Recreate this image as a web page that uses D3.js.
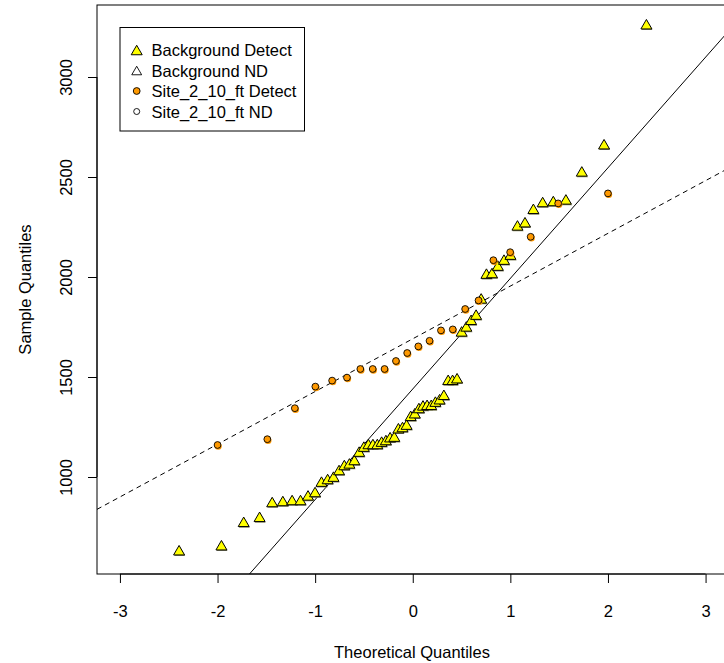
<!DOCTYPE html>
<html>
<head>
<meta charset="utf-8">
<script src="https://cdn.jsdelivr.net/npm/d3@7"></script>
<style>
  html, body { margin: 0; padding: 0; background: #fff; }
  svg { display: block; }
  text { font-family: "Liberation Sans", Arial, sans-serif; fill: #000; }
</style>
</head>
<body>
<svg id="chart" width="724" height="663"></svg>
<script>
// ---------------- DATA ----------------
const bgTheoretical = [-2.394,-1.960,-1.732,-1.569,-1.440,-1.331,-1.236,-1.150,-1.073,-1.001,
  -0.935,-0.872,-0.812,-0.755,-0.701,-0.649,-0.598,-0.549,-0.501,-0.454,
  -0.408,-0.363,-0.319,-0.275,-0.232,-0.189,-0.147,-0.105,-0.063,-0.021,
  0.021,0.063,0.105,0.147,0.189,0.232,0.275,0.319,0.363,0.408,
  0.454,0.501,0.549,0.598,0.649,0.701,0.755,0.812,0.872,0.935,
  1.001,1.073,1.150,1.236,1.331,1.440,1.569,1.732,1.960,2.394];
const bgSample = [634,659,776,801,875,880,885,885,908,925,
  977,990,1002,1035,1060,1068,1085,1127,1152,1165,
  1165,1165,1177,1185,1199,1202,1244,1250,1262,1306,
  1319,1345,1358,1361,1361,1377,1389,1411,1486,1486,
  1494,1728,1753,1786,1812,1893,2017,2020,2057,2087,
  2112,2258,2274,2341,2375,2380,2388,2528,2664,3264];

const siteTheoretical = [-2.000,-1.490,-1.208,-0.998,-0.826,-0.674,-0.537,-0.410,-0.289,-0.172,-0.057,
  0.057,0.172,0.289,0.410,0.537,0.674,0.826,0.998,1.208,1.490,2.000];
const siteSample = [1160,1189,1344,1452,1482,1497,1540,1540,1540,1580,1620,
  1653,1681,1733,1738,1840,1883,2084,2124,2201,2368,2418];

// reference lines (solid = Background, dashed = Site)
const lineNames = ["Background", "Site_2_10_ft"];
const lineIntercepts = [1440, 1691];
const lineSlopes = [553, 263.6];

const xTicks = [-3,-2,-1,0,1,2,3];
const yTicks = [1000,1500,2000,2500,3000];
const legendLabels = ["Background Detect","Background ND","Site_2_10_ft Detect","Site_2_10_ft ND"];
const xTitle = "Theoretical Quantiles";
const yTitle = "Sample Quantiles";

// ---------------- LAYOUT ----------------
const svg = d3.select("#chart");
const pL = 97, pR = 728.5, pT = 5, pB = 574;
const x = d3.scaleLinear().domain([-3.235, 3.235]).range([pL, pR]);
const y = d3.scaleLinear().domain([515, 3360]).range([pB, pT]);
const FS = 16.5;
const yellow = "#FFFF00", orange = "#FF9900";

svg.append("defs").append("clipPath").attr("id","plotclip")
  .append("rect").attr("x", pL).attr("y", pT).attr("width", pR-pL).attr("height", pB-pT);

// reference lines
const plot = svg.append("g").attr("clip-path","url(#plotclip)");
const xd = x.domain();
lineNames.forEach((n, i) => {
  plot.append("line")
    .attr("x1", x(xd[0])).attr("y1", y(lineIntercepts[i] + lineSlopes[i]*xd[0]))
    .attr("x2", x(xd[1])).attr("y2", y(lineIntercepts[i] + lineSlopes[i]*xd[1]))
    .attr("stroke", "#000").attr("stroke-width", 1)
    .attr("stroke-dasharray", i === 1 ? "5,4" : null);
});

// markers
const triW = 11, triH = 9.5;
const triPath = `M0,${-triH/2} L${triW/2},${triH/2} L${-triW/2},${triH/2} Z`;

const bgData = bgTheoretical.map((q, i) => ({q, v: bgSample[i]}));
const siteData = siteTheoretical.map((q, i) => ({q, v: siteSample[i]}));

plot.selectAll(".bgShadow").data(bgData).enter().append("path")
  .attr("d", triPath)
  .attr("transform", d => `translate(${x(d.q)+0.6},${y(d.v)+1.1})`)
  .attr("fill", "#8c8c6a");
plot.selectAll(".bg").data(bgData).enter().append("path")
  .attr("d", triPath)
  .attr("transform", d => `translate(${x(d.q)},${y(d.v)})`)
  .attr("fill", yellow).attr("stroke", "#000").attr("stroke-width", 1);

plot.selectAll(".siteShadow").data(siteData).enter().append("circle")
  .attr("cx", d => x(d.q)+0.7).attr("cy", d => y(d.v)+1.2).attr("r", 3.5)
  .attr("fill", orange);
plot.selectAll(".site").data(siteData).enter().append("circle")
  .attr("cx", d => x(d.q)).attr("cy", d => y(d.v)).attr("r", 3.4)
  .attr("fill", orange).attr("stroke", "#000").attr("stroke-width", 0.9);

// box
svg.append("rect").attr("x", pL).attr("y", pT).attr("width", pR-pL).attr("height", pB-pT)
  .attr("fill", "none").attr("stroke", "#000").attr("stroke-width", 1);

// x axis
const xAxis = svg.append("g").attr("transform", `translate(0,${pB})`)
  .call(d3.axisBottom(x).tickValues(xTicks).tickSize(9).tickPadding(0).tickFormat(d3.format("d")));
xAxis.select(".domain").attr("d", `M${x(xTicks[0])},0H${x(xTicks[xTicks.length-1])}`);
xAxis.selectAll(".tick line").attr("stroke", "#000");
xAxis.selectAll(".tick text").attr("y", 43).attr("dy", null)
  .style("font-size", FS+"px").style("font-family", "'Liberation Sans', Arial, sans-serif")
  .text(d => d < 0 ? "-" + Math.abs(d) : String(d));

// y axis
const yAxis = svg.append("g").attr("transform", `translate(${pL},0)`)
  .call(d3.axisLeft(y).tickValues(yTicks).tickSize(9).tickFormat(d3.format("d")));
yAxis.select(".domain").attr("d", `M0,${y(yTicks[0])}V${y(yTicks[yTicks.length-1])}`);
yAxis.selectAll(".tick text")
  .attr("x", null).attr("dy", null)
  .attr("transform", "translate(-25,0) rotate(-90)")
  .attr("text-anchor", "middle")
  .style("font-size", FS+"px").style("font-family", "'Liberation Sans', Arial, sans-serif");
svg.selectAll(".tick text").attr("fill", "#000");

// titles
svg.append("text").attr("x", 412).attr("y", 658)
  .attr("text-anchor", "middle").style("font-size", FS+"px").text(xTitle);
svg.append("text").attr("transform", `translate(31,${(pT+pB)/2}) rotate(-90)`)
  .attr("text-anchor", "middle").style("font-size", FS+"px").text(yTitle);

// legend
const lg = svg.append("g");
lg.append("rect").attr("x", 120).attr("y", 27.5).attr("width", 184.5).attr("height", 103.5)
  .attr("fill", "#fff").attr("stroke", "#000").attr("stroke-width", 1);
const rowY = [50, 70.5, 91, 111.5];
legendLabels.forEach((lab, i) => {
  const sx = 136.7, sy = rowY[i];
  if (i === 0) lg.append("path").attr("d", triPath).attr("transform", `translate(${sx},${sy})`)
    .attr("fill", yellow).attr("stroke", "#000");
  if (i === 1) lg.append("path").attr("d", triPath).attr("transform", `translate(${sx},${sy}) scale(0.9)`)
    .attr("fill", "none").attr("stroke", "#000");
  if (i === 2) lg.append("circle").attr("cx", sx).attr("cy", sy).attr("r", 3.4)
    .attr("fill", orange).attr("stroke", "#000").attr("stroke-width", 0.9);
  if (i === 3) lg.append("circle").attr("cx", sx).attr("cy", sy).attr("r", 3)
    .attr("fill", "none").attr("stroke", "#000").attr("stroke-width", 0.9);
  lg.append("text").attr("x", 151.5).attr("y", sy + 6).style("font-size", FS+"px").text(lab);
});
</script>
</body>
</html>
